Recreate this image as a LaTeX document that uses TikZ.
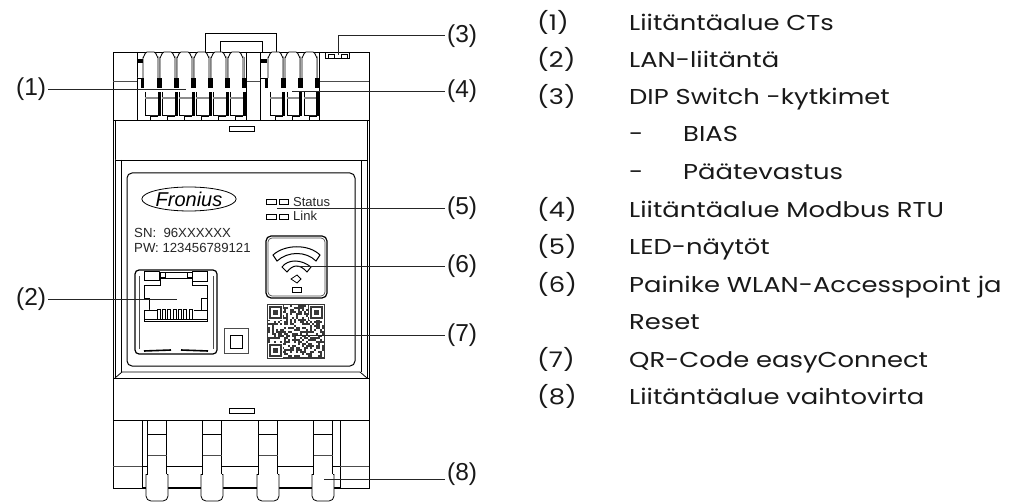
\documentclass[tikz,border=0pt]{standalone}
\usepackage{fontspec}
\setmainfont{Liberation Sans}
\newfontfamily\listfont[FakeStretch=1.2]{Poppins}
\usetikzlibrary{positioning,shapes.geometric}

\begin{document}
\begin{tikzpicture}[
  x=1pt, y=-1pt,
  part/.style={draw=black, line width=0.8pt, fill=white},
  thin part/.style={draw=black!70, line width=0.7pt},
  dark/.style={fill=black, draw=none},
  leader/.style={draw=black!85, line width=0.8pt},
  callout/.style={font=\fontsize{24.5}{25}\selectfont, anchor=west, inner sep=0pt, text=black!90},
  devtext/.style={font=\fontsize{13.2}{14}\selectfont, anchor=west, inner sep=0pt, text=black!85},
  listnum/.style={font=\listfont\fontsize{21.5}{22}\selectfont, anchor=base west, inner sep=0pt, text=black!90},
  listtext/.style={font=\listfont\fontsize{21.5}{22}\selectfont, anchor=base west, inner sep=0pt, text=black!90}
]
\useasboundingbox (0,0) rectangle (1019,502);

% Top connector block
\draw[part] (205,52) -- (205,33) -- (276,33) -- (276,52);
\draw[part] (220,52) -- (220,41) -- (262,41) -- (262,52);
\draw[part] (113,52) rectangle (369,120);
\draw[part] (137,52) -- (137,120);
\draw[part] (246,52) -- (246,120);
\draw[part] (260,52) -- (260,120);
\draw[part] (319,52) -- (319,120);
\draw[thin part] (113,81) -- (137,81);
\draw[thin part] (246,81) -- (260,81);
\draw[thin part] (319,81) -- (369,81);

% Terminals
\foreach \cx in {143,160,177,194,211,228,268,285,302}{
  \draw[part] (\cx,57) to[out=-80,in=180] (\cx+4,52) -- (\cx+11,52) to[out=0,in=-100] (\cx+15,57)
    -- (\cx+15,78) (\cx,57) -- (\cx,78);
  \draw[part] (\cx+2,92) -- (\cx+2,115) -- (\cx+15,115);
  \draw[draw=black!45, line width=2.2pt] (\cx+2,98) -- (\cx+15,98);
  \draw[part] (\cx+7,120) -- (\cx+7,116) -- (\cx+15,116);
}
\foreach \bx in {159,176,193,210,227,244,283,300,317}{
  \draw[dark] (\bx-2.5,78) rectangle (\bx+2.5,88);
  \draw[dark] (\bx-1.5,92) rectangle (\bx+1.5,116);
  \draw[draw=black!50, line width=1pt] (\bx,57) -- (\bx,78);
}
\draw[dark] (137,59) rectangle (143,63);
\draw[dark] (260,59) rectangle (267,63);
\draw[dark] (141,78) rectangle (144,88);
\draw[dark] (265,78) rectangle (268,88);
\draw[part] (137,78) -- (142,78) (260,78) -- (266,78);

% Switch
\draw[part] (325,52) rectangle (349,58);
\draw[part, fill=none] (328,54) rectangle (334,58);
\draw[part, fill=none] (341,54) rectangle (347,58);

% Middle of the housing
\draw[part] (113,120) -- (113,420);
\draw[part] (369,120) -- (369,420);
\draw[part] (115,120) -- (115,378);
\draw[part] (367,120) -- (367,378);
\draw[part] (121,160) -- (121,372);
\draw[part] (361,160) -- (361,372);
\draw[part] (115,160) -- (367,160);
\draw[part] (229,126) rectangle (254,131);
\draw[part] (115,378) -- (122,372) -- (360,372) -- (367,378);
\draw[part] (113,378) -- (369,378);
\draw[part] (229,408) rectangle (254,413);
\draw[part] (113,420) -- (369,420);

% Panel
\draw[part, line width=1pt, rounded corners=5pt] (127,173) rectangle (355,366);

% Logo
\node[part, ellipse, minimum width=82pt, minimum height=24pt, inner sep=0pt,
      font=\fontsize{20}{20}\selectfont\itshape] (logo) at (189,199) {Fronius};

% Device texts
\node[devtext] (serial) at (134,233) {SN:\ \ 96XXXXXX};
\node[devtext] (pass) at (134,248) {PW: 123456789121};
\node[devtext, font=\fontsize{13}{14}\selectfont] (status) at (293,202) {Status};
\node[devtext, font=\fontsize{13}{14}\selectfont] (link) at (293,216) {Link};
\foreach \ly in {199,214}{
  \draw[part] (266,\ly) rectangle (276,\ly+5);
  \draw[part] (279,\ly) rectangle (288,\ly+5);
}

% LAN socket
\draw[part, line width=1.2pt, rounded corners=4pt] (135,270) rectangle (217,354);
\draw[thin part] (139,276) -- (139,349);
\draw[thin part] (213,276) -- (213,349);
\draw[part] (144,285) -- (160,285) -- (160,278) -- (192,278) -- (192,285) -- (207,285)
  -- (207,321) -- (144,321) -- cycle;
\draw[part, line width=1pt] (144,272) rectangle (159,281);
\draw[part, line width=1pt] (192,272) rectangle (207,282);
\draw[part] (160,272) rectangle (165,277);
\draw[part] (187,272) rectangle (192,277);
\draw[part] (159,272) -- (192,272);
\draw[part] (201,298) rectangle (207,310);
\draw[part] (144,298) -- (149,298) -- (149,310) -- (144,310);
\draw[part] (149,310) -- (157,310) (194,310) -- (201,310);
\draw[part] (144,319) -- (207,319);
\foreach \px in {157,162.3,...,192}{
  \draw[part, line width=0.6pt] (\px,309) rectangle (\px+3,319);
}
\draw[draw=black, line width=1.6pt] (144,351) -- (171,350) (181,350) -- (208,351);

% Small button
\draw[part, draw=black!70] (224,328) rectangle (248,353);
\draw[part, line width=1pt] (230,335) rectangle (242,348);

% WLAN button
\draw[part, line width=1.2pt, rounded corners=5pt] (266,236) rectangle (327,298);
\draw[thin part, rounded corners=4pt] (268,238) rectangle (325,296);
\draw[part, line width=1pt] (273,255) .. controls (285,244) and (309,244) .. (320,255)
  -- (316,261) .. controls (306,251) and (288,251) .. (277,261) -- cycle;
\draw[part, line width=1pt] (282,267) .. controls (288,259) and (301,259) .. (311,267)
  -- (307,272) .. controls (300,264) and (293,264) .. (287,272) -- cycle;
\draw[part] (297,275) -- (301,279) -- (297,283) -- (291,279) -- cycle;
\draw[part] (292,287) rectangle (301,292);

% QR code
\fill[black!78] (267,304) rectangle (325,359);
\pgfmathsetseed{42}
\foreach \qi in {0,...,27}{
  \foreach \qj in {0,...,25}{
    \pgfmathrandominteger{\qr}{0}{9}
    \ifnum\qr<5
      \fill[white] (268+\qi*2,305+\qj*2) rectangle ++(2,2);
    \fi
  }
}
\foreach \fx/\fy in {269/306,310/306,269/344}{
  \fill[white] (\fx-1,\fy-1) rectangle ++(15,15);
  \fill[black!78] (\fx,\fy) rectangle ++(13,13);
  \fill[white] (\fx+2,\fy+2) rectangle ++(9,9);
  \fill[black!78] (\fx+4,\fy+4) rectangle ++(5,5);
}

% Bottom connector block
\draw[part] (113,420) rectangle (369,488);
\draw[part] (142,420) -- (142,488);
\draw[part] (340,420) -- (340,488);
\draw[thin part] (113,466) -- (142,466);
\draw[thin part] (340,466) -- (369,466);
\draw[part] (142,466) -- (340,466);
\draw[part] (142,487) -- (340,487);
\foreach \cx in {157,212,268,323}{
  \draw[part] (\cx-9.5,420) rectangle (\cx+9.5,474);
  \draw[part] (\cx-9.5,434) -- (\cx+9.5,434);
  \draw[thin part] (\cx-9.5,455) -- (\cx+9.5,455);
  \draw[part, rounded corners=5pt] (\cx-11,474) -- (\cx-11,501) -- (\cx+11,501) -- (\cx+11,474);
  \draw[part] (\cx-11,474) -- (\cx-9.5,474) (\cx+9.5,474) -- (\cx+11,474);
}

% Callouts
\node[callout] (n1) at (16,89) {(1)};
\node[callout] (n2) at (16,299) {(2)};
\node[callout] (n3) at (447,36) {(3)};
\node[callout] (n4) at (447,91) {(4)};
\node[callout] (n5) at (447,208) {(5)};
\node[callout] (n6) at (447,266) {(6)};
\node[callout] (n7) at (447,335) {(7)};
\node[callout] (n8) at (447,474) {(8)};
\coordinate (t1) at (186,89);
\coordinate (t2) at (177,299);
\coordinate (t3) at (338,55);
\coordinate (b3) at (338,35);
\coordinate (t4) at (292,91);
\coordinate (t5) at (277,208);
\coordinate (t6) at (297,266);
\coordinate (t7) at (295,335);
\coordinate (t8) at (324,479);
\draw[leader] ([xshift=2pt]n1.east) -- (t1);
\draw[leader] ([xshift=2pt]n2.east) -- (t2);
\draw[leader] (t3) -- (b3) -- ([xshift=-2pt]n3.west |- b3);
\draw[leader] (t4) -- ([xshift=-2pt]n4.west |- t4);
\draw[leader] (t5) -- ([xshift=-2pt]n5.west |- t5);
\draw[leader] (t6) -- ([xshift=-2pt]n6.west |- t6);
\draw[leader] (t7) -- ([xshift=-2pt]n7.west |- t7);
\draw[leader] (t8) -- ([xshift=-2pt]n8.west |- t8);

% List
\node[listnum] (l1) at (537,31) {(1)};
\node[listtext] (e1) at (629,31) {Liitäntäalue CTs};
\node[listnum] (l2) at (537,68) {(2)};
\node[listtext] (e2) at (629,68) {LAN-liitäntä};
\node[listnum] (l3) at (537,105) {(3)};
\node[listtext] (e3) at (629,105) {DIP Switch -kytkimet};
\node[listtext] (d1) at (629,142) {-};
\node[listtext] (e3a) at (683,142) {BIAS};
\node[listtext] (d2) at (629,180) {-};
\node[listtext] (e3b) at (683,180) {Päätevastus};
\node[listnum] (l4) at (537,218) {(4)};
\node[listtext] (e4) at (629,218) {Liitäntäalue Modbus RTU};
\node[listnum] (l5) at (537,255) {(5)};
\node[listtext] (e5) at (629,255) {LED-näytöt};
\node[listnum] (l6) at (537,293) {(6)};
\node[listtext] (e6) at (629,293) {Painike WLAN-Accesspoint ja};
\node[listtext] (e6b) at (629,329) {Reset};
\node[listnum] (l7) at (537,367) {(7)};
\node[listtext] (e7) at (629,367) {QR-Code easyConnect};
\node[listnum] (l8) at (537,404) {(8)};
\node[listtext] (e8) at (629,404) {Liitäntäalue vaihtovirta};
\end{tikzpicture}
\end{document}
